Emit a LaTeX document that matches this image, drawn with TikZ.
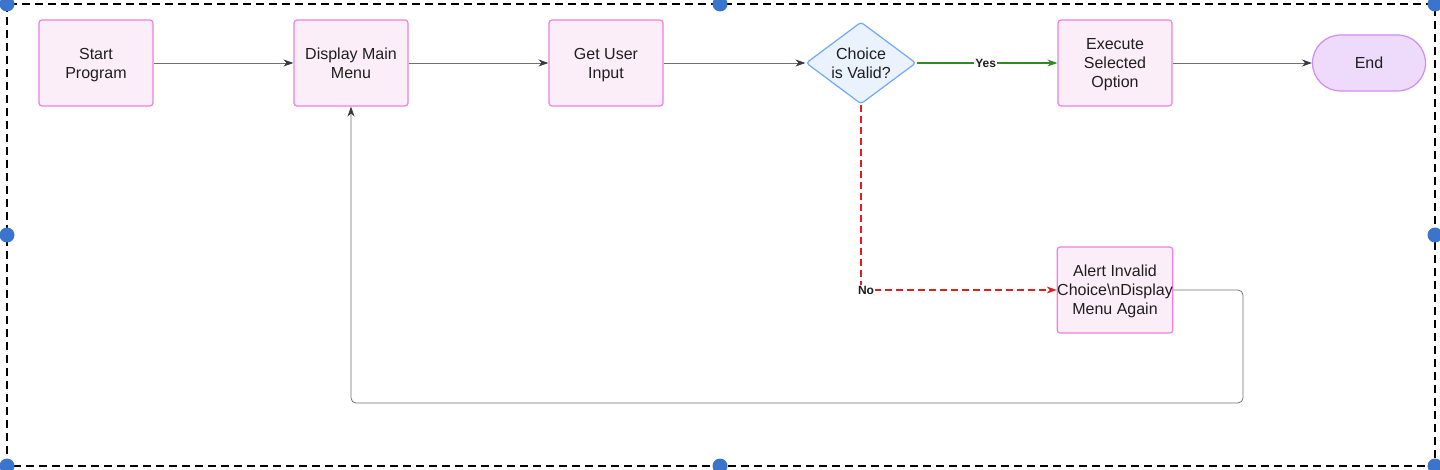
\documentclass[tikz,border=0pt]{standalone}
\usepackage{fontspec}
\setmainfont{Liberation Sans}
\usetikzlibrary{shapes.geometric,arrows.meta,positioning}
\definecolor{boxfill}{HTML}{FCEEF9}
\definecolor{boxdraw}{HTML}{F07FDD}
\definecolor{dfill}{HTML}{EAF2FE}
\definecolor{ddraw}{HTML}{70A8F6}
\definecolor{efill}{HTML}{EEDAFB}
\definecolor{edraw}{HTML}{D08DF0}
\definecolor{lgray}{HTML}{707070}
\definecolor{tipgray}{HTML}{333A44}
\definecolor{ygreen}{HTML}{2F8A24}
\definecolor{nred}{HTML}{E01E1E}
\definecolor{handle}{HTML}{3B74CC}
\definecolor{txt}{HTML}{1E1E1E}
\tikzset{
  x=1pt,y=-1pt,
  every node/.style={font=\fontsize{16}{19}\selectfont, text=txt},
  procbox/.style={draw=boxdraw, fill=boxfill, line width=1.2pt, rounded corners=3pt,
     minimum width=114pt, minimum height=86pt, align=center, inner sep=0pt, text depth=0pt},
  decbox/.style={draw=ddraw, fill=dfill, line width=1.2pt, diamond, rounded corners=3pt,
     minimum width=110pt, minimum height=82pt, align=center, inner sep=0pt, aspect=1.34},
  termbox/.style={draw=edraw, fill=efill, line width=1.2pt, rounded corners=28pt,
     minimum width=113pt, minimum height=56pt, align=center, inner sep=0pt, text depth=0pt},
  flow/.style={draw=lgray, line width=0.8pt, -{Stealth[length=10pt,width=7pt,color=tipgray]}},
  yesflow/.style={color=ygreen, line width=1.3pt, -{Stealth[length=10pt,width=7pt]}},
  noflow/.style={color=nred, line width=1.1pt, dash pattern=on 7pt off 4pt, -{Stealth[length=10pt,width=7pt]}},
  elabel/.style={font=\fontsize{12}{14}\selectfont\bfseries, fill=white, inner sep=1pt, text=txt},
  handledot/.style={fill=handle, draw=none},
}
\begin{document}
\begin{tikzpicture}
\useasboundingbox (0,0) rectangle (1440,470);
\fill[white] (0,0) rectangle (1440,470);
% selection frame
\draw[black, line width=2.2pt, dash pattern=on 8pt off 5pt] (7,4) rectangle (1435,466);
% nodes
\node[procbox] (start) at (96,63) {Start\\Program};
\node[procbox] (disp) at (351,63) {Display Main\\Menu};
\node[procbox] (get) at (606,63) {Get User\\Input};
\node[decbox] (dec) at (861,63) {Choice\\is Valid?};
\node[procbox] (exec) at (1115,63) {Execute\\Selected\\Option};
\node[termbox] (end) at (1369,63) {End};
\node[procbox] (alert) at (1115,290) {Alert Invalid\\Choice\textbackslash{}nDisplay\\Menu Again};
\coordinate (noc) at (861,290);
\coordinate (r1) at (1243,290);
\coordinate (r2) at (1243,403);
\coordinate (r3) at (351,403);
% edges
\draw[flow] (start.east) -- (disp.west);
\draw[flow] (disp.east) -- (get.west);
\draw[flow] (get.east) -- (dec.west);
\draw[yesflow] (dec.east) -- node[elabel, pos=0.49] {Yes} (exec.west);
\draw[flow] (exec.east) -- (end.west);
\draw[noflow] (dec.south) -- (noc) -- (alert.west);
\node[elabel] at (866,290) {No};
\draw[flow, rounded corners=5pt] (alert.east) -- (r1) -- (r2) -- (r3) -- (disp.south);
% handles
\foreach \p in {(7,4),(720,4),(1435,4),(7,235),(1435,235),(7,466),(720,466),(1435,466)}
  \fill[handledot] \p circle (7.5);
\end{tikzpicture}
\end{document}
